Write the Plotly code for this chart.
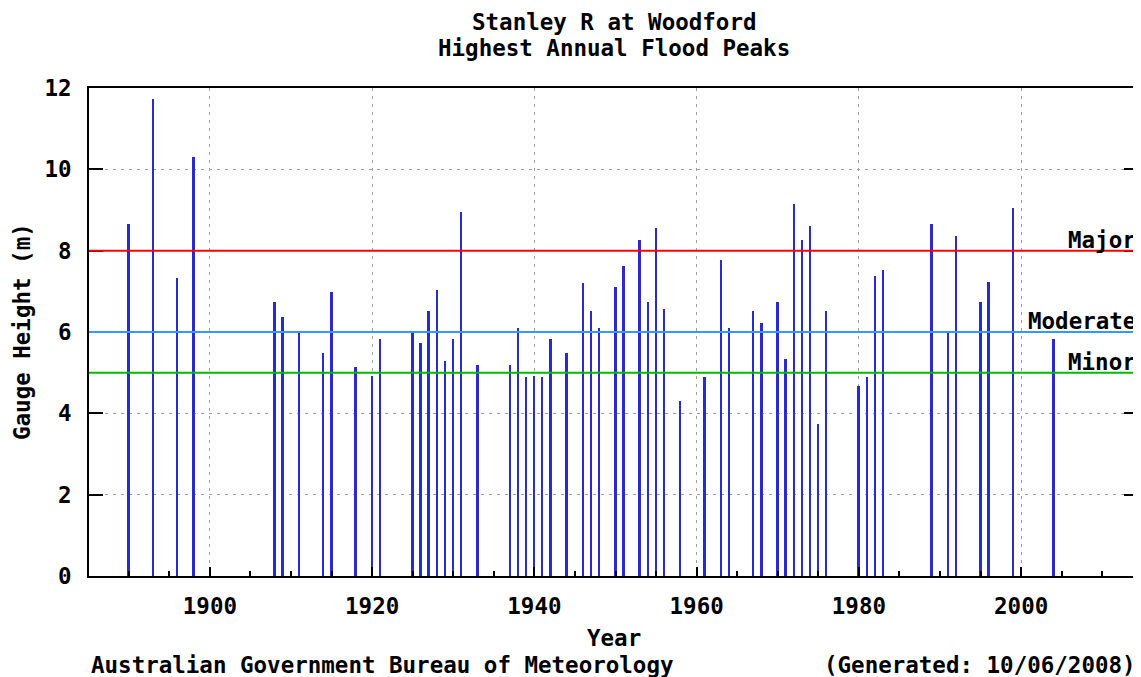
import plotly.graph_objects as go

years = [1890, 1893, 1896, 1898, 1908, 1909, 1911, 1914, 1915, 1918, 1920, 1921,
         1925, 1926, 1927, 1928, 1929, 1930, 1931, 1933, 1937, 1938, 1939, 1940,
         1941, 1942, 1944, 1946, 1947, 1948, 1950, 1951, 1953, 1954, 1955, 1956,
         1958, 1961, 1963, 1964, 1967, 1968, 1970, 1971, 1972, 1973, 1974, 1975,
         1976, 1980, 1981, 1982, 1983, 1989, 1991, 1992, 1995, 1996, 1999, 2004]
heights = [8.65, 11.73, 7.33, 10.31, 6.75, 6.37, 6.0, 5.49, 6.99, 5.14, 4.92, 5.83,
           5.99, 5.74, 6.51, 7.04, 5.29, 5.83, 8.94, 5.19, 5.19, 6.11, 4.9, 4.93,
           4.9, 5.83, 5.49, 7.2, 6.51, 6.11, 7.1, 7.63, 8.26, 6.75, 8.56, 6.56,
           4.31, 4.9, 7.77, 6.11, 6.51, 6.21, 6.75, 5.34, 9.15, 8.26, 8.61, 3.73,
           6.51, 4.67, 4.9, 7.38, 7.53, 8.66, 6.0, 8.37, 6.75, 7.24, 9.05, 5.83]

levels = ["Major", "Moderate", "Minor"]
level_values = [8, 6, 5]
level_colors = ["#ff0000", "#3399ff", "#00bb00"]

title_lines = ["Stanley R at Woodford", "Highest Annual Flood Peaks"]
x_ticks = [1900, 1920, 1940, 1960, 1980, 2000]
y_ticks = [0, 2, 4, 6, 8, 10, 12]

MONO = "DejaVu Sans Mono"
FS = 22.5

fig = go.Figure()
fig.add_trace(go.Bar(x=years, y=heights, width=0.24,
                     marker=dict(color="#2a2ad2", line=dict(width=0)),
                     showlegend=False))

for name, val, col in zip(levels, level_values, level_colors):
    fig.add_hline(y=val, line=dict(color=col, width=2), layer="above")
    fig.add_annotation(x=1, xref="paper", y=val, yref="y", text="<b>" + name + "</b>",
                       xanchor="right", yanchor="middle", showarrow=False,
                       yshift=11, font=dict(family=MONO, size=FS, color="black"))

# page body has an 8px margin: shrink figure so plot box lands where the reference has it
fig.update_layout(
    width=1133, height=669,
    margin=dict(l=81, r=1, t=80, b=101),
    paper_bgcolor="white", plot_bgcolor="white",
    bargap=0,
    xaxis=dict(range=[1885.1, 2014.4], tickvals=x_ticks,
               ticktext=["<b>%d</b>" % v for v in x_ticks],
               ticks="inside", ticklen=9, tickcolor="black", tickwidth=2,
               minor=dict(dtick=5, tick0=1885, ticks="inside", ticklen=5,
                          tickcolor="black", tickwidth=2, showgrid=False),
               showline=True, linecolor="black", linewidth=2, mirror=True,
               showgrid=True, gridcolor="#a0a0a0", griddash="3px,5px", gridwidth=1,
               zeroline=False, ticklabelstandoff=9,
               tickfont=dict(family=MONO, size=FS, color="black")),
    yaxis=dict(range=[0, 12], tickvals=y_ticks,
               ticktext=["<b>%d</b>" % v for v in y_ticks],
               ticks="inside", ticklen=14, tickcolor="black", tickwidth=2,
               showline=True, linecolor="black", linewidth=2, mirror="ticks",
               showgrid=True, gridcolor="#a0a0a0", griddash="3px,5px", gridwidth=1,
               zeroline=False, ticklabelstandoff=11,
               tickfont=dict(family=MONO, size=FS, color="black")),
)

for line, shift in zip(title_lines, [66, 40]):
    fig.add_annotation(x=0.5, xref="paper", y=1, yref="paper", yanchor="middle",
                       yshift=shift, text="<b>" + line + "</b>", showarrow=False,
                       font=dict(family=MONO, size=FS, color="black"))

fig.add_annotation(x=0.5, xref="paper", y=0, yref="paper", yanchor="middle", yshift=-62,
                   text="<b>Year</b>", showarrow=False,
                   font=dict(family=MONO, size=FS, color="black"))
fig.add_annotation(x=0, xref="paper", y=0, yref="paper", xanchor="left", yanchor="middle",
                   yshift=-89, text="<b>Australian Government Bureau of Meteorology</b>",
                   showarrow=False, font=dict(family=MONO, size=FS, color="black"))
fig.add_annotation(x=1, xref="paper", y=0, yref="paper", xanchor="right", yanchor="middle",
                   yshift=-89, text="<b>(Generated: 10/06/2008)</b>",
                   showarrow=False, font=dict(family=MONO, size=FS, color="black"))
fig.add_annotation(x=0, xref="paper", y=0.5, yref="paper", xanchor="center",
                   xshift=-67, text="<b>Gauge Height (m)</b>", textangle=-90,
                   showarrow=False, font=dict(family=MONO, size=FS, color="black"))

fig.write_html("out.html")
